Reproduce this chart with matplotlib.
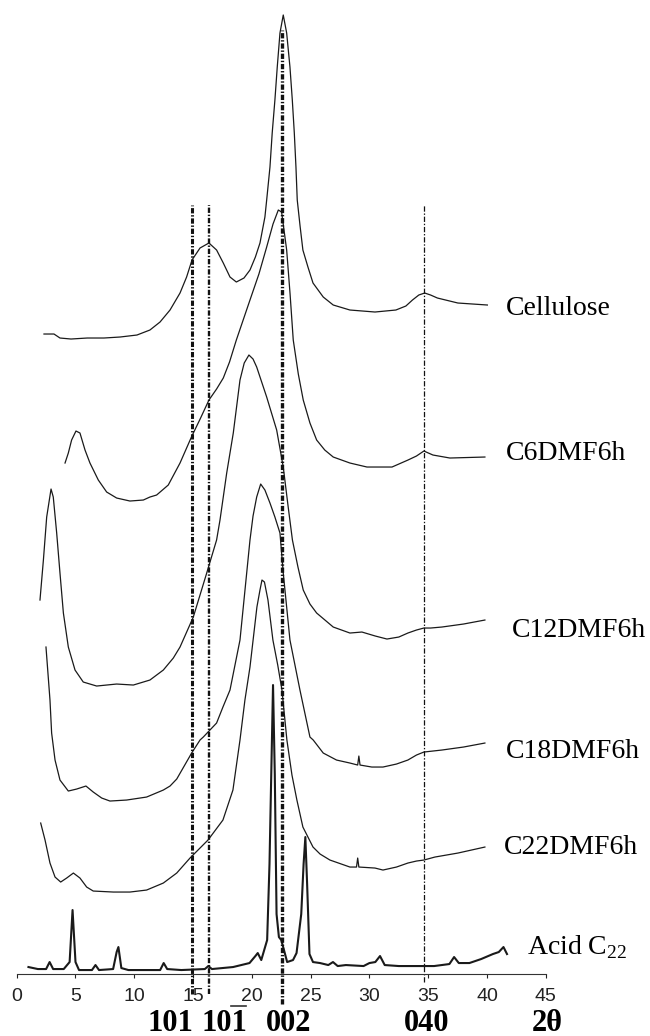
import numpy as np
import matplotlib.pyplot as plt

plt.rcParams['lines.scale_dashes'] = False
plt.rcParams['mathtext.fontset'] = 'custom'
plt.rcParams['mathtext.rm'] = 'Liberation Serif'

# 2theta (deg) / stacked intensity (arb. units)
cell_x = [2.32, 3.17, 3.68, 4.62, 6.0, 7.42, 8.79, 10.23, 11.33, 12.19, 13.04, 13.89,
          14.45, 14.91, 15.59, 16.35, 17.0, 17.57, 18.14, 18.68, 19.33, 19.84, 20.3,
          20.69, 21.11, 21.26, 21.54, 21.73, 21.96, 22.16, 22.39, 22.67, 22.96, 23.24,
          23.44, 23.61, 23.75, 23.86, 24.1, 24.34, 24.77, 25.2, 26.07, 26.92, 28.34,
          30.47, 32.25, 33.1, 33.66, 34.2, 34.7, 35.2, 35.78, 37.52, 40.03]
cell_y = [640, 640, 636, 635, 636, 636, 637, 639, 644, 652, 664, 681,
          697, 714, 726, 731, 724, 711, 697, 692, 696, 704, 717,
          731, 757, 774, 807, 841, 874, 907, 941, 959, 941, 907,
          874, 841, 807, 774, 748, 724, 707, 691, 677, 669, 664,
          662, 664, 668, 674, 679, 681, 679, 676, 671, 669]

c6_x = [4.11, 4.39, 4.67, 5.04, 5.38, 5.81, 6.23, 6.94, 7.65, 8.50, 9.63, 10.77,
        11.33, 11.9, 12.89, 13.89, 14.86, 15.6, 16.35, 17.0, 17.57, 18.1, 18.68,
        19.84, 20.6, 21.26, 21.8, 22.25, 22.53, 22.96, 23.25, 23.52, 23.95, 24.37,
        24.94, 25.51, 26.2, 26.92, 28.34, 29.79, 31.92, 33.28, 34.0, 34.63, 35.4,
        36.84, 39.82]
c6_y = [511, 521, 534, 543, 541, 524, 511, 494, 482, 476, 473, 474,
        477, 479, 489, 511, 537, 555, 574, 585, 596, 612, 634,
        674, 700, 727, 750, 764, 762, 724, 680, 634, 600, 574,
        551, 534, 524, 517, 511, 507, 507, 514, 518, 523, 519,
        516, 517]

c12_x = [1.98, 2.27, 2.55, 2.92, 3.11, 3.40, 3.68, 3.97, 4.39, 4.96, 5.66, 6.80,
         8.50, 9.92, 11.33, 12.47, 13.32, 13.89, 15.02, 16.16, 17.0, 17.29, 17.86,
         18.42, 18.99, 19.35, 19.75, 20.1, 20.41, 21.26, 22.11, 22.67, 23.09, 23.45,
         23.92, 24.37, 24.94, 25.51, 26.92, 28.34, 29.36, 30.5, 31.49, 32.5, 33.27,
         34.0, 34.63, 35.2, 36.16, 38.0, 39.82]
c12_y = [374, 414, 457, 485, 477, 441, 401, 361, 327, 304, 292, 288,
         290, 289, 294, 304, 316, 327, 357, 401, 434, 454, 501,
         541, 594, 611, 619, 615, 607, 577, 544, 507, 467, 434,
         407, 384, 370, 361, 347, 341, 342, 338, 335, 337, 341,
         344, 346, 346, 347, 350, 354]

c18_x = [2.49, 2.83, 2.97, 3.26, 3.68, 4.39, 5.10, 5.89, 6.51, 7.23, 7.93, 9.35,
         11.05, 12.47, 13.04, 13.61, 14.88, 15.59, 15.87, 17.0, 17.54, 18.14, 18.99,
         19.56, 19.84, 20.1, 20.41, 20.75, 21.11, 21.54, 21.96, 22.39, 22.67, 23.24,
         24.09, 24.94, 25.22, 26.07, 27.2, 28.34, 29.0, 29.1, 29.2, 30.2, 31.15,
         32.3, 33.27, 34.0, 34.63, 36.16, 38.0, 39.82]
c18_y = [327, 274, 241, 214, 194, 183, 185, 188, 182, 176, 173, 174,
         177, 184, 188, 195, 221, 234, 237, 251, 267, 284, 334,
         401, 434, 458, 477, 490, 484, 471, 457, 441, 401, 334,
         284, 237, 234, 221, 214, 211, 209, 218, 209, 207, 207,
         210, 214, 219, 222, 224, 227, 231]

c22_x = [2.04, 2.41, 2.83, 3.26, 3.74, 4.25, 4.82, 5.38, 5.95, 6.51, 8.22, 9.63,
         11.05, 12.47, 13.61, 14.74, 16.27, 17.54, 18.39, 18.69, 18.99, 19.41, 19.84,
         20.43, 20.69, 20.86, 21.07, 21.37, 21.79, 22.2, 22.56, 22.98, 23.41, 23.83,
         24.34, 25.2, 25.8, 26.64, 28.34, 28.9, 29.0, 29.1, 30.47, 31.15, 32.3,
         33.27, 34.0, 34.63, 35.57, 37.53, 39.82]
c22_y = [151, 134, 111, 97, 92, 96, 101, 96, 87, 83, 82, 82,
         84, 91, 101, 116, 134, 154, 184, 209, 234, 274, 307,
         367, 384, 394, 392, 374, 334, 309, 284, 234, 199, 174,
         147, 127, 120, 114, 107, 107, 116, 107, 106, 104, 107,
         111, 113, 114, 117, 121, 127]

acid_x = [1.0, 1.8, 2.5, 2.8, 3.1, 4.0, 4.5, 4.75, 5.0, 5.3, 6.4, 6.7, 7.0, 8.2, 8.5,
          8.65, 8.9, 9.5, 12.2, 12.5, 12.8, 14.0, 16.0, 16.3, 16.6, 18.4, 19.8, 20.3,
          20.5, 20.8, 21.3, 21.5, 21.65, 21.8, 21.95, 22.1, 22.3, 22.5, 22.8, 23.0,
          23.5, 23.8, 24.2, 24.4, 24.55, 24.7, 24.9, 25.2, 25.8, 26.5, 26.9, 27.3,
          28.0, 29.5, 30.0, 30.5, 30.9, 31.3, 32.5, 34.0, 35.5, 36.8, 37.2, 37.6,
          38.5, 39.5, 40.5, 41.0, 41.4, 41.7]
acid_y = [7, 5, 5, 12, 5, 5, 12, 64, 12, 4, 4, 9, 4, 5, 22,
          27, 6, 4, 4, 11, 5, 4, 5, 8, 5, 7, 11, 18,
          21, 14, 34, 110, 200, 289, 200, 60, 37, 34, 21, 12,
          14, 21, 60, 110, 137, 90, 20, 12, 11, 9, 12, 8,
          9, 8, 11, 12, 18, 9, 8, 8, 8, 10, 17, 11,
          11, 15, 20, 22, 27, 20]

series = [(cell_x, cell_y), (c6_x, c6_y), (c12_x, c12_y),
          (c18_x, c18_y), (c22_x, c22_y)]
names = ['Cellulose', 'C6DMF6h', 'C12DMF6h', 'C18DMF6h', 'C22DMF6h']
name_x = [41.6, 41.6, 42.1, 41.6, 41.4]
name_y = [666, 521, 344, 223, 127]

# reference reflections of cellulose I
refl_pos = [14.88, 16.32, 22.55, 34.63]
refl_top = [769, 769, 944, 769]
refl_bot = [-20, -20, -30, -8]
refl_lw = [2.2, 1.7, 2.4, 0.9]
hkl_labels = ['101', '101', '002', '040', '2θ']
hkl_x = [13.1, 17.7, 23.1, 34.9, 45.1]

fig = plt.figure(figsize=(6.5, 10.36), dpi=100)
ax = fig.add_axes([0.0257, 0.0598, 0.814, 0.9402])

for (x, y), name, tx, ty in zip(series, names, name_x, name_y):
    ax.plot(x, y, color='#1a1a1a', lw=0.9)
    ax.text(tx, ty, name, fontsize=20, family='Liberation Serif',
            ha='left', va='center')

ax.plot(acid_x, acid_y, color='#1a1a1a', lw=1.5)
ax.text(43.4, 27, r'Acid C$_{\mathrm{22}}$', fontsize=20,
        family='Liberation Serif', ha='left', va='center')

for p, t, b, w in zip(refl_pos, refl_top, refl_bot, refl_lw):
    ax.plot([p, p], [b, t], color='#111111', lw=w, clip_on=False,
            linestyle=(0, (3.8, 1.3, 1.0, 1.3)), solid_capstyle='butt')

for s, hx in zip(hkl_labels, hkl_x):
    ax.text(hx, -57, s, fontsize=22, family='Liberation Serif',
            weight='bold', ha='center', va='baseline')

# overbar of the (10-1) index, slightly off as in the print
ax.plot([hkl_x[1] + 0.5, hkl_x[1] + 1.8], [-32, -32], color='#333333',
        lw=1.2, clip_on=False)

ax.set_xlim(0, 45)
ax.set_ylim(0, 974)
ax.set_xticks(np.arange(0, 46, 5))
ax.set_yticks([])
for side in ['top', 'right', 'left']:
    ax.spines[side].set_visible(False)
ax.spines['bottom'].set_color('#333333')
ax.tick_params(axis='x', length=3, pad=7, labelsize=14, colors='#222222')
for lab in ax.get_xticklabels():
    lab.set_family('Liberation Sans')
ax.patch.set_visible(False)

fig.savefig('out.png', dpi=100)
